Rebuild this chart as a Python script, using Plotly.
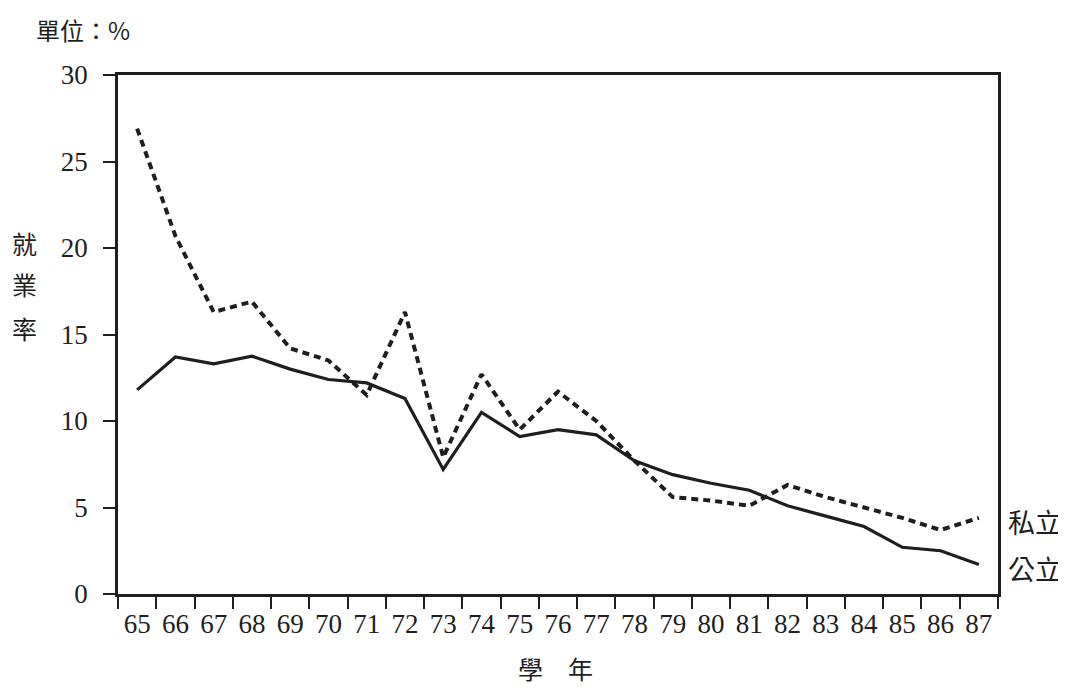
import plotly.graph_objects as go

years = [str(y) for y in range(65, 88)]
private_rate = [26.9, 20.7, 16.3, 16.9, 14.2, 13.5, 11.5, 16.3, 7.9, 12.7, 9.5, 11.7,
                10.0, 7.7, 5.6, 5.4, 5.1, 6.3, 5.6, 5.0, 4.4, 3.7, 4.4]
public_rate = [11.8, 13.7, 13.3, 13.75, 13.0, 12.4, 12.2, 11.3, 7.2, 10.5, 9.1, 9.5,
               9.2, 7.7, 6.9, 6.4, 6.0, 5.1, 4.5, 3.9, 2.7, 2.5, 1.7]
y_ticks = [0, 5, 10, 15, 20, 25, 30]

serif = "Liberation Serif, DejaVu Serif, serif"
cjk = "Noto Sans CJK TC, Noto Sans CJK SC, sans-serif"
ink = "#1e1e1e"

fig = go.Figure()
fig.add_trace(go.Scatter(x=years, y=private_rate, mode="lines", name="私立",
                         line=dict(color=ink, width=4, dash="7px,5px")))
fig.add_trace(go.Scatter(x=years, y=public_rate, mode="lines", name="公立",
                         line=dict(color=ink, width=3.2)))

fig.update_layout(
    width=1058, height=682,
    margin=dict(l=110, r=68, t=67, b=96),
    paper_bgcolor="white", plot_bgcolor="white",
    showlegend=False,
    font=dict(family=serif, color=ink, size=24),
)
fig.update_xaxes(
    type="category", tickson="boundaries", range=[-0.5, 22.5],
    showline=True, linecolor=ink, linewidth=2.5, mirror=True,
    ticks="outside", ticklen=12, tickwidth=2, tickcolor=ink,
    showgrid=False, zeroline=False,
    tickfont=dict(family=serif, size=27, color=ink),
    ticklabelstandoff=4,
)
fig.update_yaxes(
    range=[0, 30], tickvals=y_ticks,
    showline=True, linecolor=ink, linewidth=2.5, mirror=True,
    ticks="outside", ticklen=12, tickwidth=2, tickcolor=ink,
    showgrid=False, zeroline=False,
    tickfont=dict(family=serif, size=27, color=ink),
    ticklabelstandoff=10,
)

ann = []
ann.append(dict(text="單位：%", xref="paper", yref="paper", x=-0.095, y=1.087,
                xanchor="left", yanchor="middle", showarrow=False,
                font=dict(family=cjk, size=24, color=ink)))
for ch, yv in zip(["就", "業", "率"], [20.3, 17.9, 15.4]):
    ann.append(dict(text=ch, xref="paper", yref="y", x=-0.106, y=yv,
                    xanchor="center", yanchor="middle", showarrow=False,
                    font=dict(family=cjk, size=25, color=ink)))
ann.append(dict(text="私立", xref="paper", yref="y", x=1.0, y=4.2, xshift=8,
                xanchor="left", yanchor="middle", showarrow=False,
                font=dict(family=cjk, size=27, color=ink)))
ann.append(dict(text="公立", xref="paper", yref="y", x=1.0, y=1.5, xshift=8,
                xanchor="left", yanchor="middle", showarrow=False,
                font=dict(family=cjk, size=27, color=ink)))
ann.append(dict(text="學　年", xref="paper", yref="paper", x=0.497, y=-0.1426,
                xanchor="center", yanchor="middle", showarrow=False,
                font=dict(family=cjk, size=25, color=ink)))
fig.update_layout(annotations=ann)

fig.write_html("out.html")
